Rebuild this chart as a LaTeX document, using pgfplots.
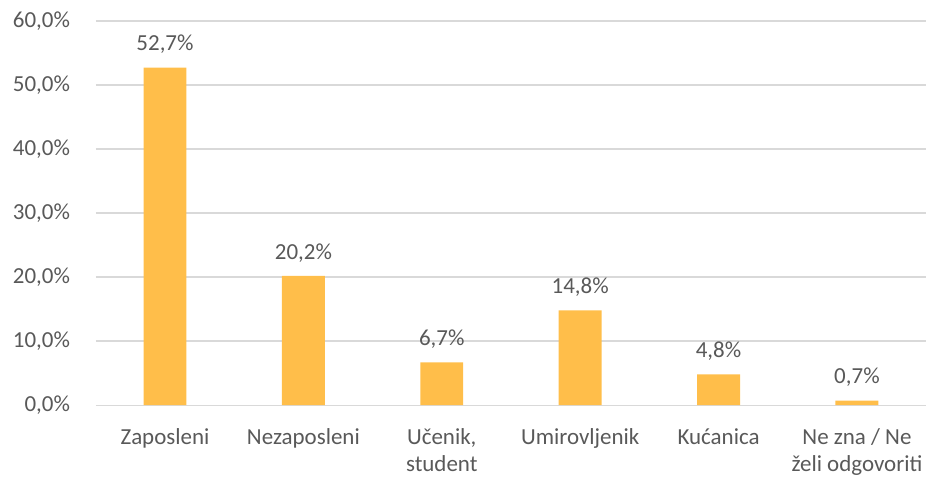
\documentclass[border=0pt]{standalone}
\usepackage{pgfplots}
\pgfplotsset{compat=1.18}
\usepackage{fontspec}
\setmainfont{Carlito}
\definecolor{barc}{HTML}{FFBE4A}
\definecolor{txt}{HTML}{595959}
\definecolor{gridc}{HTML}{D9D9D9}
\begin{document}
\fontsize{23bp}{27bp}\selectfont
\begin{tikzpicture}
\begin{axis}[
  at={(0,0)}, anchor=south west,
  scale only axis, width=832bp, height=385bp,
  xmin=-0.5, xmax=5.5, ymin=0, ymax=60,
  ytick={0,10,...,60},
  xtick=data,
  xmajorgrids=false,
  xticklabels={Zaposleni,Nezaposleni,{Učenik,\\student},Umirovljenik,Kućanica,{Ne zna / Ne\\želi odgovoriti}},
  x tick label style={align=center, text=txt, font=\fontsize{23bp}{27bp}\selectfont, yshift=-16bp},
  y tick label style={text=txt, font=\fontsize{23bp}{27bp}\selectfont, xshift=-18bp},
  /pgf/number format/assume math mode=true,
  yticklabel={\pgfmathprintnumber[fixed,fixed zerofill,precision=1,use comma]{\tick}\%},
  axis line style={draw=none},
  ymajorgrids, grid style={draw=gridc, line width=1.3bp},
  major tick style={draw=none},
  major tick length=0pt,
  ybar, bar width=43bp,
  nodes near coords={\pgfmathprintnumber[fixed,fixed zerofill,precision=1,use comma]{\pgfplotspointmeta}\%},
  every node near coord/.append style={text=txt, font=\fontsize{23bp}{27bp}\selectfont, yshift=6bp},
  clip=false,
]
\addplot[fill=barc, draw=none] coordinates {(0,52.7) (1,20.2) (2,6.7) (3,14.8) (4,4.8) (5,0.7)};
\end{axis}
\useasboundingbox (-96bp,-73bp) rectangle (834bp,406bp);
\end{tikzpicture}
\end{document}
